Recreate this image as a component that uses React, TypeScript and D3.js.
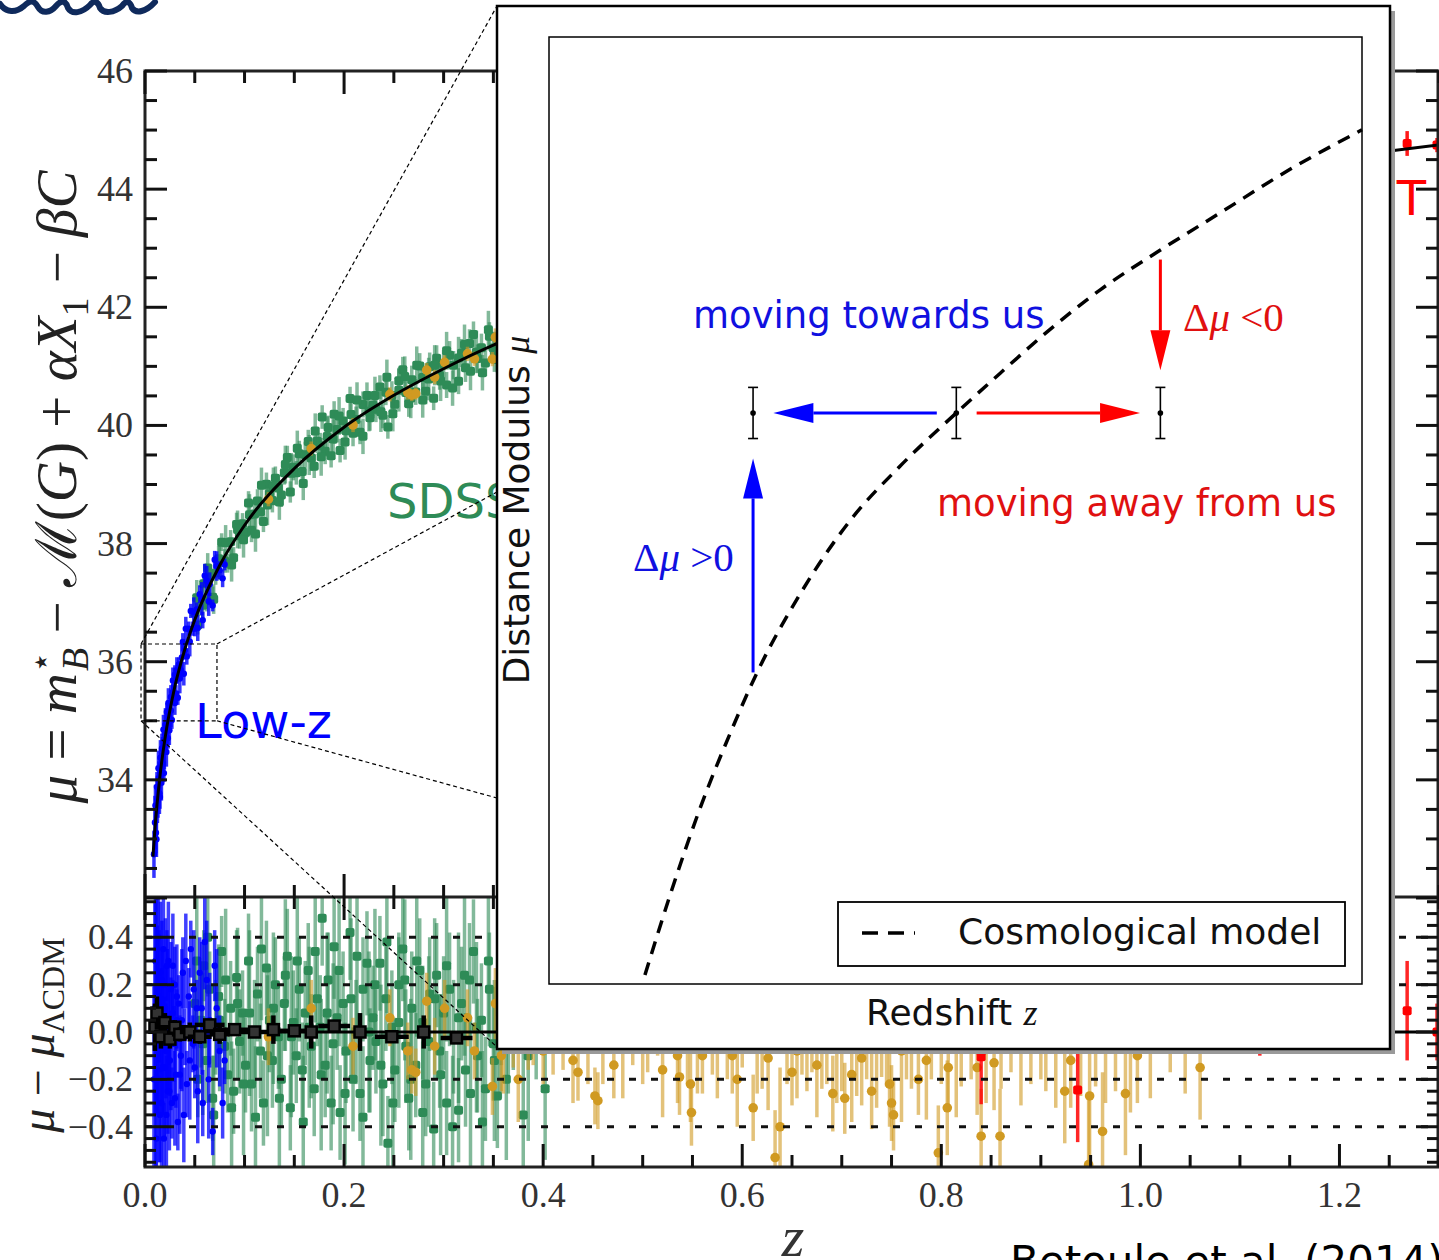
import React from "react";
import * as d3 from "d3";

// ---------- axis ticks ----------
const zTicks = [0, 0.2, 0.4, 0.6, 0.8, 1.0, 1.2];
const muTicks = [34, 36, 38, 40, 42, 44, 46];
const resTicks = [-0.4, -0.2, 0.0, 0.2, 0.4];

// ---------- model (LCDM) curve ----------
const modelZ = [0.008, 0.01, 0.015, 0.02, 0.03, 0.04, 0.05, 0.075, 0.1, 0.15, 0.2, 0.25, 0.3, 0.35, 0.4, 0.5, 0.6, 0.7, 0.8, 0.9, 1.0, 1.1, 1.2, 1.3];
const modelMu = [32.7, 33.18, 34.06, 34.69, 35.58, 36.21, 36.71, 37.63, 38.31, 39.27, 39.97, 40.51, 40.96, 41.36, 41.68, 42.26, 42.73, 43.14, 43.48, 43.79, 44.06, 44.31, 44.54, 44.75];

// ---------- Hubble residuals [z, mu - muLCDM, error] ----------
const lowZ: [number, number, number][] = [
  [0.010, 0.10, 0.45], [0.011, -0.25, 0.35], [0.012, 0.35, 0.25], [0.013, -0.05, 0.30], [0.014, 0.15, 0.28],
  [0.015, -0.35, 0.20], [0.016, 0.05, 0.22], [0.017, 0.22, 0.25], [0.018, -0.15, 0.20], [0.019, -0.45, 0.15],
  [0.020, 0.10, 0.18], [0.021, -0.08, 0.20], [0.022, 0.28, 0.15], [0.023, -0.25, 0.18], [0.024, 0.02, 0.16],
  [0.025, -0.12, 0.15], [0.026, 0.18, 0.20], [0.027, -0.30, 0.15], [0.028, 0.08, 0.14], [0.029, -0.05, 0.16],
  [0.030, 0.20, 0.16], [0.031, -0.18, 0.14], [0.032, 0.05, 0.13], [0.033, -0.38, 0.12], [0.034, 0.12, 0.12],
  [0.036, -0.10, 0.14], [0.038, 0.25, 0.15], [0.040, -0.02, 0.12], [0.042, -0.22, 0.14], [0.044, 0.15, 0.12],
  [0.046, 0.35, 0.12], [0.048, -0.05, 0.12], [0.050, -0.15, 0.13], [0.052, 0.10, 0.12], [0.055, 0.25, 0.15],
  [0.058, -0.30, 0.14], [0.062, 0.22, 0.25], [0.065, 0.05, 0.20], [0.068, -0.42, 0.10], [0.072, 0.10, 0.25],
  [0.075, -0.08, 0.15], [0.080, -0.12, 0.10],
  [0.009, -0.20, 0.40], [0.0105, 0.30, 0.35], [0.0115, -0.45, 0.30], [0.0125, 0.05, 0.40], [0.0135, 0.40, 0.30],
  [0.0145, -0.20, 0.35], [0.0155, 0.25, 0.30], [0.0165, -0.30, 0.30], [0.0175, 0.00, 0.35], [0.0185, 0.35, 0.25],
  [0.0195, -0.15, 0.30], [0.0205, 0.20, 0.28], [0.0215, -0.35, 0.25], [0.0225, 0.05, 0.30], [0.0235, 0.30, 0.25],
  [0.0245, -0.25, 0.25], [0.026, -0.05, 0.28], [0.028, 0.28, 0.22], [0.030, -0.28, 0.20], [0.032, 0.15, 0.22],
  [0.035, -0.18, 0.25], [0.037, 0.05, 0.30], [0.039, -0.35, 0.20], [0.041, 0.30, 0.20], [0.045, -0.12, 0.25],
  [0.049, 0.18, 0.25], [0.053, -0.25, 0.22], [0.057, 0.10, 0.28], [0.060, 0.38, 0.20], [0.064, -0.20, 0.25],
  [0.070, 0.28, 0.15], [0.078, -0.30, 0.15],
];

const sdss: [number, number, number][] = [
  [0.050, 0.12, 0.18], [0.053, -0.20, 0.16], [0.056, 0.05, 0.20], [0.059, 0.28, 0.15], [0.062, -0.12, 0.18],
  [0.065, 0.18, 0.16], [0.068, -0.28, 0.18], [0.071, 0.02, 0.20], [0.074, 0.15, 0.22], [0.077, 0.34, 0.15],
  [0.080, -0.06, 0.20], [0.083, -0.18, 0.16], [0.086, 0.10, 0.20], [0.089, -0.25, 0.18], [0.092, 0.23, 0.20],
  [0.095, -0.04, 0.22], [0.098, 0.08, 0.18], [0.101, -0.14, 0.20], [0.104, 0.30, 0.20], [0.107, -0.22, 0.20],
  [0.110, 0.00, 0.22], [0.113, 0.16, 0.20], [0.116, -0.08, 0.20], [0.119, -0.30, 0.18], [0.122, 0.27, 0.20],
  [0.125, 0.05, 0.22], [0.128, -0.12, 0.20], [0.131, 0.20, 0.20], [0.134, -0.02, 0.22], [0.137, -0.20, 0.20],
  [0.140, 0.12, 0.20], [0.143, 0.32, 0.20], [0.146, -0.32, 0.18], [0.149, 0.04, 0.22], [0.152, -0.10, 0.20],
  [0.155, 0.18, 0.22], [0.158, -0.16, 0.20], [0.161, 0.08, 0.22], [0.164, 0.26, 0.20], [0.167, -0.06, 0.22],
  [0.170, -0.24, 0.20], [0.173, 0.14, 0.20], [0.176, 0.02, 0.22], [0.178, 0.48, 0.20], [0.181, -0.14, 0.22],
  [0.184, 0.22, 0.20], [0.187, -0.30, 0.20], [0.190, 0.36, 0.22], [0.193, 0.06, 0.22], [0.196, -0.34, 0.20],
  [0.199, 0.12, 0.22], [0.202, -0.08, 0.22], [0.206, 0.42, 0.20], [0.209, -0.20, 0.22], [0.212, 0.00, 0.22],
  [0.216, -0.26, 0.20], [0.219, 0.18, 0.22], [0.223, 0.29, 0.22], [0.226, -0.12, 0.22], [0.229, 0.06, 0.22],
  [0.232, -0.04, 0.22], [0.236, 0.29, 0.20], [0.239, -0.22, 0.22], [0.242, 0.14, 0.22], [0.244, -0.47, 0.20],
  [0.248, 0.02, 0.24], [0.251, -0.16, 0.22], [0.255, 0.20, 0.22], [0.259, 0.35, 0.22], [0.262, -0.06, 0.24],
  [0.265, -0.28, 0.22], [0.268, 0.10, 0.24], [0.272, -0.14, 0.22], [0.276, 0.26, 0.22], [0.279, 0.04, 0.24],
  [0.282, -0.22, 0.22], [0.286, 0.16, 0.24], [0.290, -0.41, 0.20], [0.293, 0.24, 0.22], [0.296, -0.08, 0.24],
  [0.300, 0.08, 0.24], [0.303, -0.30, 0.22], [0.306, 0.18, 0.24], [0.310, -0.02, 0.24], [0.315, -0.33, 0.22],
  [0.318, 0.12, 0.24], [0.322, -0.16, 0.24], [0.326, 0.22, 0.24], [0.330, 0.34, 0.22], [0.334, -0.10, 0.24],
  [0.338, 0.05, 0.24], [0.342, -0.24, 0.22], [0.346, 0.18, 0.24], [0.350, -0.05, 0.24], [0.354, -0.27, 0.22],
  [0.358, 0.10, 0.24], [0.365, -0.02, 0.24], [0.372, 0.15, 0.24], [0.380, -0.35, 0.30], [0.393, 0.05, 0.25],
  [0.402, -0.24, 0.30],
  [0.052, 0.30, 0.30], [0.058, -0.05, 0.30], [0.063, 0.40, 0.25], [0.069, -0.35, 0.25], [0.075, 0.05, 0.30],
  [0.081, 0.22, 0.30], [0.087, -0.32, 0.28], [0.093, 0.12, 0.32], [0.099, -0.22, 0.30], [0.105, 0.08, 0.35],
  [0.111, -0.36, 0.30], [0.117, 0.35, 0.30], [0.123, -0.10, 0.34], [0.129, 0.10, 0.32], [0.135, -0.28, 0.30],
  [0.141, 0.24, 0.32], [0.147, -0.02, 0.34], [0.153, 0.30, 0.30], [0.159, -0.38, 0.28], [0.165, 0.02, 0.34],
  [0.171, 0.34, 0.30], [0.177, -0.18, 0.32], [0.183, 0.08, 0.34], [0.189, -0.05, 0.34], [0.195, 0.26, 0.32],
  [0.201, -0.26, 0.30], [0.207, 0.14, 0.34], [0.213, 0.32, 0.30], [0.219, -0.36, 0.30], [0.225, 0.00, 0.34],
  [0.231, 0.20, 0.32], [0.237, -0.14, 0.34], [0.243, 0.38, 0.30], [0.249, -0.30, 0.30], [0.255, 0.04, 0.36],
  [0.261, 0.22, 0.34], [0.267, -0.20, 0.34], [0.273, 0.30, 0.32], [0.279, -0.34, 0.30], [0.285, -0.04, 0.36],
  [0.291, 0.14, 0.34], [0.297, -0.18, 0.34], [0.303, 0.28, 0.32], [0.309, -0.40, 0.30], [0.315, 0.06, 0.36],
  [0.321, 0.24, 0.34], [0.327, -0.26, 0.32], [0.333, 0.02, 0.36], [0.339, -0.38, 0.30], [0.345, 0.30, 0.32],
  [0.351, -0.12, 0.34], [0.357, 0.08, 0.36], [0.363, -0.20, 0.34], [0.370, 0.20, 0.36], [0.385, -0.10, 0.36],
];

const snls: [number, number, number][] = [
  [0.124, -0.02, 0.12], [0.167, 0.10, 0.12], [0.209, -0.06, 0.12], [0.246, 0.06, 0.12], [0.264, -0.08, 0.12],
  [0.268, -0.16, 0.10], [0.272, -0.17, 0.10], [0.283, 0.13, 0.12], [0.291, -0.06, 0.12], [0.301, 0.10, 0.12],
  [0.324, 0.06, 0.12], [0.331, -0.08, 0.12], [0.349, -0.23, 0.12], [0.352, 0.12, 0.15], [0.358, -0.10, 0.15],
  [0.370, 0.05, 0.20], [0.385, -0.02, 0.14], [0.410, 0.02, 0.20], [0.435, -0.17, 0.12], [0.445, 0.00, 0.22],
  [0.452, -0.27, 0.12], [0.455, -0.29, 0.12], [0.471, -0.14, 0.14], [0.490, 0.04, 0.18], [0.500, -0.02, 0.20],
  [0.515, 0.06, 0.16], [0.535, -0.10, 0.20], [0.537, -0.19, 0.16], [0.548, -0.22, 0.16], [0.549, -0.34, 0.14],
  [0.560, -0.10, 0.16], [0.570, 0.02, 0.20], [0.590, -0.10, 0.16], [0.600, 0.05, 0.20], [0.611, -0.32, 0.14],
  [0.626, -0.11, 0.22], [0.633, -0.53, 0.20], [0.638, -0.40, 0.25], [0.650, -0.17, 0.14], [0.660, 0.00, 0.18],
  [0.670, 0.05, 0.22], [0.680, -0.02, 0.22], [0.691, -0.26, 0.16], [0.700, -0.05, 0.20], [0.703, -0.28, 0.15],
  [0.720, -0.11, 0.20], [0.730, -0.25, 0.16], [0.740, 0.03, 0.22], [0.748, -0.22, 0.18], [0.750, -0.30, 0.16],
  [0.752, -0.35, 0.15], [0.765, 0.00, 0.20], [0.777, -0.20, 0.15], [0.790, 0.04, 0.24], [0.797, -0.51, 0.20],
  [0.806, -0.32, 0.20], [0.807, -0.15, 0.18], [0.820, 0.02, 0.25], [0.836, -0.15, 0.20], [0.840, -0.44, 0.20],
  [0.853, -0.13, 0.20], [0.859, -0.44, 0.20], [0.870, 0.03, 0.20], [0.890, 0.00, 0.22], [0.905, 0.05, 0.30],
  [0.924, -0.25, 0.22], [0.930, -0.12, 0.20], [0.948, -0.56, 0.30], [0.949, -0.27, 0.30], [0.955, 0.02, 0.25],
  [0.962, -0.42, 0.25], [0.985, -0.26, 0.26], [0.997, -0.10, 0.20], [1.030, 0.00, 0.17], [1.060, -0.15, 0.22],
  [0.360, -0.04, 0.22], [0.375, -0.20, 0.18], [0.390, 0.02, 0.16], [0.400, -0.08, 0.14], [0.420, 0.04, 0.20],
  [0.430, -0.12, 0.18], [0.460, 0.02, 0.24], [0.480, -0.06, 0.22], [0.505, 0.08, 0.25], [0.520, -0.16, 0.20],
  [0.545, 0.00, 0.22], [0.555, 0.04, 0.30], [0.575, -0.06, 0.22], [0.585, 0.10, 0.30], [0.595, -0.20, 0.20],
  [0.615, 0.02, 0.28], [0.620, -0.04, 0.20], [0.645, 0.08, 0.30], [0.655, -0.08, 0.20], [0.665, 0.10, 0.35],
  [0.675, -0.14, 0.22], [0.685, 0.06, 0.28], [0.695, 0.00, 0.30], [0.710, -0.18, 0.20], [0.715, 0.05, 0.32],
  [0.725, 0.10, 0.30], [0.735, -0.06, 0.26], [0.745, 0.12, 0.35], [0.760, -0.08, 0.30], [0.770, 0.06, 0.30],
  [0.785, -0.12, 0.25], [0.800, 0.08, 0.30], [0.815, -0.06, 0.30], [0.830, 0.10, 0.30], [0.845, 0.00, 0.30],
  [0.860, 0.06, 0.30], [0.880, -0.06, 0.25], [0.900, 0.10, 0.30], [0.915, -0.02, 0.30], [0.940, 0.08, 0.35],
  [0.965, 0.00, 0.30], [0.975, 0.10, 0.35], [0.990, -0.04, 0.30], [1.010, 0.12, 0.40], [1.045, 0.04, 0.30],
];

const hst: [number, number, number][] = [
  [0.840, -0.105, 0.20], [0.937, -0.245, 0.22], [1.120, 0.05, 0.15], [1.268, 0.09, 0.21], [1.298, 0.00, 0.12],
];

// binned residuals [z, res, zHalfWidth, err]
const bins: [number, number, number, number][] = [
  [0.010, 0.02, 0.002, 0.10], [0.012, 0.08, 0.003, 0.07], [0.016, -0.02, 0.004, 0.05], [0.020, 0.04, 0.010, 0.04],
  [0.025, -0.03, 0.005, 0.04], [0.030, 0.02, 0.015, 0.03], [0.035, -0.01, 0.008, 0.03], [0.045, 0.00, 0.010, 0.04],
  [0.055, -0.02, 0.012, 0.03], [0.065, 0.03, 0.015, 0.025], [0.075, -0.01, 0.010, 0.04], [0.090, 0.01, 0.020, 0.02],
  [0.110, 0.00, 0.015, 0.02], [0.129, 0.01, 0.003, 0.06], [0.150, 0.005, 0.015, 0.015], [0.167, 0.00, 0.003, 0.07],
  [0.190, 0.025, 0.016, 0.01], [0.216, 0.00, 0.003, 0.08], [0.248, -0.02, 0.017, 0.01], [0.280, 0.00, 0.003, 0.07],
  [0.313, -0.025, 0.016, 0.01],
];

// ---------- inset schematic (normalised inset units) ----------
const insetCurveX = [0.118, 0.149, 0.186, 0.223, 0.256, 0.309, 0.370, 0.432, 0.501, 0.555, 0.616, 0.678, 0.752, 0.825, 0.911, 1.0];
const insetCurveY = [0.0095, 0.094, 0.186, 0.265, 0.329, 0.412, 0.489, 0.547, 0.603, 0.645, 0.691, 0.733, 0.775, 0.814, 0.860, 0.902];
const insetPointsX = [0.251, 0.501, 0.752];
const insetPointY = 0.603;
const insetPointErr = 0.027;

const BLUE = "#0000ff";
const GREEN = "#2e8b57";
const GOLD = "#d09a22";
const RED = "#ff0000";

export default function App() {
  const x = d3.scaleLinear().domain([0, 1.3]).range([145, 1439]);
  const yT = d3.scaleLinear().domain([32, 46]).range([898, 71]);
  const yR = d3.scaleLinear().domain([-0.57, 0.57]).range([1167, 897]);
  const model = d3.scaleLinear().domain(modelZ).range(modelMu);

  const xi = d3.scaleLinear().domain([0, 1]).range([549, 1362]);
  const yi = d3.scaleLinear().domain([0, 1]).range([984, 37]);

  const L = 145, R = 1438, T = 71, MID = 897, B = 1167;

  const modelLine = d3.line<number>().x((_, i) => x(modelZ[i])).y((d) => yT(d)).curve(d3.curveMonotoneX)(modelMu) || "";
  const insetLine = d3.line<number>().x((_, i) => xi(insetCurveX[i])).y((d) => yi(d)).curve(d3.curveMonotoneX)(insetCurveY) || "";

  const minorZ = x.ticks(26);
  const minorMu = yT.ticks(28);
  const minorRes = yR.ticks(22);

  const tickColor = "#111";
  const labelFont = "'Liberation Serif', 'DejaVu Serif', serif";
  const sans = "'DejaVu Sans', Verdana, sans-serif";

  const marker = (shape: string, cx: number, cy: number, color: string, key: string) => {
    if (shape === "sq") return <rect key={key} x={cx - 4.5} y={cy - 4.5} width={9} height={9} rx={2} fill={color} />;
    return <circle key={key} cx={cx} cy={cy} r={shape === "small" ? 3.2 : 4.8} fill={color} />;
  };

  const series = (data: [number, number, number][], color: string, shape: string, panel: "top" | "res", pre: string, op = 0.6) =>
    data.map(([z, r, e], i) => {
      const cx = x(z);
      const v = panel === "top" ? model(z) + r : r;
      const ys = panel === "top" ? yT : yR;
      return (
        <g key={pre + i}>
          <line x1={cx} x2={cx} y1={ys(v - e)} y2={ys(v + e)} stroke={color} strokeWidth={3.5} strokeOpacity={op} />
          {marker(shape, cx, ys(v), color, "m")}
        </g>
      );
    });

  const arrow = (x1: number, y1: number, x2: number, y2: number, color: string, key: string) => {
    const px1 = xi(x1), py1 = yi(y1), px2 = xi(x2), py2 = yi(y2);
    const dx = px2 - px1, dy = py2 - py1;
    const len = Math.hypot(dx, dy);
    const ux = dx / len, uy = dy / len;
    const hl = 40, hw = 10;
    const bx = px2 - ux * hl, by = py2 - uy * hl;
    const pts = `${px2},${py2} ${bx - uy * hw},${by + ux * hw} ${bx + uy * hw},${by - ux * hw}`;
    return (
      <g key={key}>
        <line x1={px1} y1={py1} x2={bx} y2={by} stroke={color} strokeWidth={3} />
        <polygon points={pts} fill={color} />
      </g>
    );
  };

  // zoom box
  const bz0 = -0.004, bz1 = 0.0723, bm0 = 35.0, bm1 = 36.3;
  const bx0 = x(bz0), bx1 = x(bz1), by0 = yT(bm1), by1 = yT(bm0);

  return (
    <svg width={1439} height={1260} style={{ position: "absolute", left: 0, top: 0, background: "#fff" }} xmlns="http://www.w3.org/2000/svg">
      <defs>
        <clipPath id="clipTop"><rect x={L} y={T} width={R - L} height={MID - T} /></clipPath>
        <clipPath id="clipRes"><rect x={L} y={MID} width={R - L} height={B - MID} /></clipPath>
      </defs>
      <rect x={0} y={0} width={1439} height={1260} fill="#fff" />

      {/* handwriting fragment */}
      <path d="M0,4 C6,13 16,13 24,6 C30,0 34,0 38,7 C42,14 50,13 56,6 C62,-1 66,1 68,8 C72,15 82,13 90,5 C94,0 98,1 100,8 C104,14 114,13 122,6 C126,0 130,1 132,8 C136,14 146,12 155,2"
        fill="none" stroke="#0f2a5c" strokeWidth={6} strokeLinecap="round" />

      {/* ---------- upper panel ---------- */}
      <g clipPath="url(#clipTop)">
        {series(sdss, GREEN, "sq", "top", "gt")}
        {series(snls, GOLD, "c", "top", "ot")}
        {series(lowZ, BLUE, "small", "top", "bt", 0.8)}
        {series(hst, RED, "sq", "top", "rt", 0.9)}
        <path d={modelLine} fill="none" stroke="#000" strokeWidth={3} />
      </g>

      {/* ---------- residual panel ---------- */}
      <g clipPath="url(#clipRes)">
        {series(sdss, GREEN, "sq", "res", "gr")}
        {series(snls, GOLD, "c", "res", "or")}
        {series(lowZ, BLUE, "small", "res", "br", 0.75)}
        {series(hst, RED, "sq", "res", "rr", 0.85)}
        {resTicks.filter((t) => t !== 0).map((t) => (
          <line key={"g" + t} x1={L} x2={R} y1={yR(t)} y2={yR(t)} stroke="#111" strokeWidth={3} strokeDasharray="7,15" />
        ))}
        <line x1={L} x2={R} y1={yR(0)} y2={yR(0)} stroke="#000" strokeWidth={3} />
        {bins.map(([z, r, dz, e], i) => (
          <g key={"bin" + i}>
            <line x1={x(z - dz)} x2={x(z + dz)} y1={yR(r)} y2={yR(r)} stroke="#000" strokeWidth={4.5} />
            <line x1={x(z)} x2={x(z)} y1={yR(r - e)} y2={yR(r + e)} stroke="#000" strokeWidth={4.5} />
            <rect x={x(z) - 5.5} y={yR(r) - 5.5} width={11} height={11} fill="#333" stroke="#000" strokeWidth={2.5} />
          </g>
        ))}
      </g>

      {/* ---------- spines ---------- */}
      <rect x={L} y={T} width={R - L} height={B - T} fill="none" stroke="#222" strokeWidth={3} />
      <line x1={L} x2={R} y1={MID} y2={MID} stroke="#222" strokeWidth={3} />

      {/* x ticks */}
      {minorZ.map((z) => {
        const major = zTicks.some((t) => Math.abs(t - z) < 1e-6);
        const l = major ? 23 : 12;
        const px = x(z);
        return (
          <g key={"zt" + z} stroke={tickColor} strokeWidth={3}>
            <line x1={px} x2={px} y1={T} y2={T + l} />
            <line x1={px} x2={px} y1={MID} y2={MID - l} />
            <line x1={px} x2={px} y1={MID} y2={MID + l} />
            <line x1={px} x2={px} y1={B} y2={B - l} />
          </g>
        );
      })}
      {/* mu ticks */}
      {minorMu.map((m) => {
        const major = muTicks.some((t) => Math.abs(t - m) < 1e-6) || Math.abs(m - 32) < 1e-6;
        const l = major ? 22 : 12;
        const py = yT(m);
        return (
          <g key={"mt" + m} stroke={tickColor} strokeWidth={3}>
            <line x1={L} x2={L + l} y1={py} y2={py} />
            <line x1={R} x2={R - l} y1={py} y2={py} />
          </g>
        );
      })}
      {/* residual ticks */}
      {minorRes.map((r) => {
        const major = resTicks.some((t) => Math.abs(t - r) < 1e-6);
        const l = major ? 22 : 11;
        const py = yR(r);
        return (
          <g key={"rt" + r} stroke={tickColor} strokeWidth={3}>
            <line x1={L} x2={L + l} y1={py} y2={py} />
            <line x1={R} x2={R - l} y1={py} y2={py} />
          </g>
        );
      })}

      {/* tick labels */}
      {muTicks.map((m) => (
        <text key={"ml" + m} x={133} y={yT(m) + 12} textAnchor="end" fontFamily={labelFont} fontSize={36} fill="#333">{m}</text>
      ))}
      {resTicks.map((r) => (
        <text key={"rl" + r} x={133} y={yR(r) + 12} textAnchor="end" fontFamily={labelFont} fontSize={36} fill="#333">
          {r < 0 ? "\u2212" + Math.abs(r).toFixed(1) : r.toFixed(1)}
        </text>
      ))}
      {zTicks.map((z) => (
        <text key={"zl" + z} x={x(z)} y={1207} textAnchor="middle" fontFamily={labelFont} fontSize={36} fill="#333">{z.toFixed(1)}</text>
      ))}

      {/* axis labels */}
      <text transform="translate(76,487) rotate(-90)" textAnchor="middle" fontFamily={labelFont} fontSize={57} fill="#222">
        <tspan fontStyle="italic">μ</tspan>
        <tspan> = </tspan>
        <tspan fontStyle="italic">m</tspan>
        <tspan fontSize={34} dy={-24}>⋆</tspan>
        <tspan fontSize={38} fontStyle="italic" dx={-19} dy={36}>B</tspan>
        <tspan dy={-12}> − </tspan>
        <tspan>ℳ</tspan>
        <tspan>(</tspan>
        <tspan fontStyle="italic">G</tspan>
        <tspan>) + </tspan>
        <tspan fontStyle="italic">αX</tspan>
        <tspan fontSize={38} dy={12}>1</tspan>
        <tspan dy={-12}> − </tspan>
        <tspan fontStyle="italic">βC</tspan>
      </text>
      <text transform="translate(54,1035) rotate(-90)" textAnchor="middle" fontFamily={labelFont} fontSize={48} fill="#222">
        <tspan fontStyle="italic">μ</tspan>
        <tspan> − </tspan>
        <tspan fontStyle="italic">μ</tspan>
        <tspan fontSize={32} dy={10}>ΛCDM</tspan>
      </text>
      <text x={793} y={1256} textAnchor="middle" fontFamily={labelFont} fontStyle="italic" fontSize={58} fill="#333">z</text>

      {/* sample names */}
      <text x={195} y={738} fontFamily={sans} fontSize={48} fill={BLUE}>Low-z</text>
      <text x={387} y={518} fontFamily={sans} fontSize={48} fill={GREEN}>SDSS</text>
      <text x={1426} y={215} textAnchor="end" fontFamily={sans} fontSize={48} fill={RED}>HST</text>

      {/* zoom box and connectors */}
      <g stroke="#000" strokeWidth={1.2} strokeDasharray="4,3" fill="none">
        <rect x={bx0} y={by0} width={bx1 - bx0} height={by1 - by0} />
        <line x1={bx0} y1={by0} x2={497} y2={6} />
        <line x1={bx1} y1={by0} x2={497} y2={492} />
        <line x1={bx1} y1={by1} x2={497} y2={798} />
        <line x1={bx0} y1={by1} x2={497} y2={1047} />
      </g>

      {/* ---------- inset ---------- */}
      <rect x={502} y={11} width={893} height={1043} fill="#9a9a9a" />
      <rect x={497} y={6} width={893} height={1043} fill="#fff" stroke="#000" strokeWidth={2.5} />
      <rect x={xi(0)} y={yi(1)} width={xi(1) - xi(0)} height={yi(0) - yi(1)} fill="none" stroke="#000" strokeWidth={1.5} />
      <path d={insetLine} fill="none" stroke="#000" strokeWidth={3.5} strokeDasharray="13,9" />

      {insetPointsX.map((px, i) => (
        <g key={"ip" + i} stroke="#000" strokeWidth={1.6}>
          <line x1={xi(px)} x2={xi(px)} y1={yi(insetPointY - insetPointErr)} y2={yi(insetPointY + insetPointErr)} />
          <line x1={xi(px) - 5} x2={xi(px) + 5} y1={yi(insetPointY - insetPointErr)} y2={yi(insetPointY - insetPointErr)} />
          <line x1={xi(px) - 5} x2={xi(px) + 5} y1={yi(insetPointY + insetPointErr)} y2={yi(insetPointY + insetPointErr)} />
          <circle cx={xi(px)} cy={yi(insetPointY)} r={2.8} fill="#000" stroke="none" />
        </g>
      ))}
      {arrow(0.477, insetPointY, 0.276, insetPointY, BLUE, "a1")}
      {arrow(0.526, insetPointY, 0.727, insetPointY, RED, "a2")}
      {arrow(0.752, 0.765, 0.752, 0.648, RED, "a3")}
      {arrow(0.251, 0.329, 0.251, 0.555, BLUE, "a4")}

      <text x={693} y={328} fontFamily={sans} fontSize={37} fill="#1010e0">moving towards us</text>
      <text x={937} y={516} fontFamily={sans} fontSize={37} fill="#e01010">moving away from us</text>
      <text x={1183} y={331} fontFamily={labelFont} fontSize={41} fill="#e01010">
        Δ<tspan fontStyle="italic">μ</tspan> {"<0"}
      </text>
      <text x={633} y={571} fontFamily={labelFont} fontSize={41} fill="#1010e0">
        Δ<tspan fontStyle="italic">μ</tspan> {">0"}
      </text>

      {/* legend */}
      <rect x={838} y={902} width={507} height={64} fill="#fff" stroke="#000" strokeWidth={1.8} />
      <line x1={862} x2={915} y1={933} y2={933} stroke="#000" strokeWidth={3.5} strokeDasharray="16,10" />
      <text x={958} y={944} fontFamily={sans} fontSize={36} fill="#111">Cosmological model</text>

      <text x={866} y={1025} fontFamily={sans} fontSize={36} fill="#111">
        Redshift <tspan fontFamily={labelFont} fontStyle="italic">z</tspan>
      </text>
      <text transform="translate(529,510) rotate(-90)" textAnchor="middle" fontFamily={sans} fontSize={36} fill="#111">
        Distance Modulus <tspan fontFamily={labelFont} fontStyle="italic">μ</tspan>
      </text>

      {/* citation */}
      <text x={1010} y={1276} fontFamily={sans} fontSize={42} fill="#000">Betoule et al. (2014)</text>
    </svg>
  );
}
